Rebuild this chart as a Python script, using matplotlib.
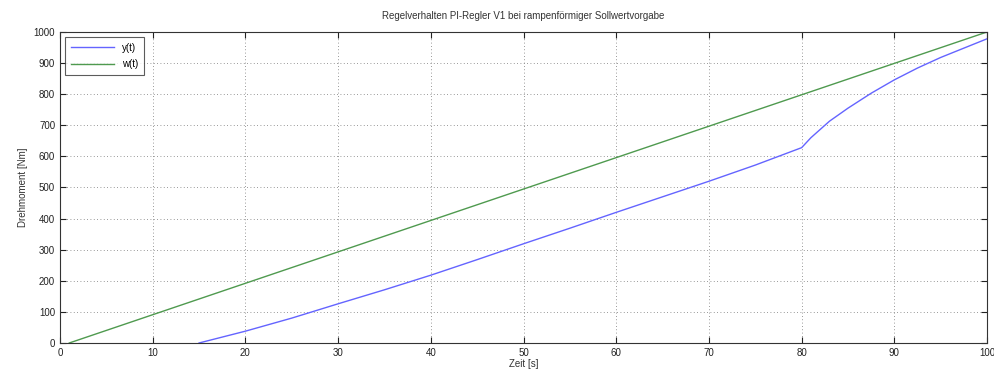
import matplotlib
matplotlib.use("Agg")
import matplotlib.pyplot as plt

# Sollwert w(t): Rampe
t_w = [1, 100]
w_vals = [0, 1000]

# Istwert y(t)
t_y = [15, 20, 25, 30, 35, 40, 45, 50, 55, 60, 65, 70, 75, 80,
       81, 83, 85, 87.5, 90, 92.5, 95, 100]
y_vals = [0, 38, 80, 126, 171, 218, 268, 319, 369, 420, 470, 520, 572, 628,
          660, 713, 755, 803, 846, 884, 918, 978]

x_ticks = [0, 10, 20, 30, 40, 50, 60, 70, 80, 90, 100]
y_ticks = [0, 100, 200, 300, 400, 500, 600, 700, 800, 900, 1000]

plt.rcParams['font.family'] = ['Liberation Sans', 'DejaVu Sans']

fig = plt.figure(figsize=(9.95, 3.76), dpi=100)
ax = fig.add_axes([0.0603, 0.0878, 0.9317, 0.8272])

ax.plot(t_y, y_vals, color='#6464ff', lw=1.0, label='y(t)')
ax.plot(t_w, w_vals, color='#4f9a4f', lw=1.0, label='w(t)')

ax.set_xlim(0, 100)
ax.set_ylim(0, 1000)
ax.set_xticks(x_ticks)
ax.set_yticks(y_ticks)
ax.tick_params(direction='in', top=True, right=True, length=4, width=0.8,
               labelsize=7, colors='#222222')
ax.grid(True, linestyle=(0, (1, 3)), color='#777777', linewidth=0.6)
for s in ax.spines.values():
    s.set_linewidth(0.8)
    s.set_color('#333333')

ax.set_title('Regelverhalten PI-Regler V1 bei rampenförmiger Sollwertvorgabe',
             fontsize=7, color='#333333', pad=9)
ax.set_xlabel('Zeit [s]', fontsize=7, color='#333333', labelpad=1)
ax.set_ylabel('Drehmoment [Nm]', fontsize=7, color='#333333', labelpad=4)

leg = ax.legend(loc='upper left', fontsize=7, frameon=True, fancybox=False,
                edgecolor='#333333', borderaxespad=0.5, handlelength=4.5,
                labelspacing=0.7, borderpad=0.6)
leg.get_frame().set_linewidth(0.8)

fig.savefig('out.png', dpi=100)
